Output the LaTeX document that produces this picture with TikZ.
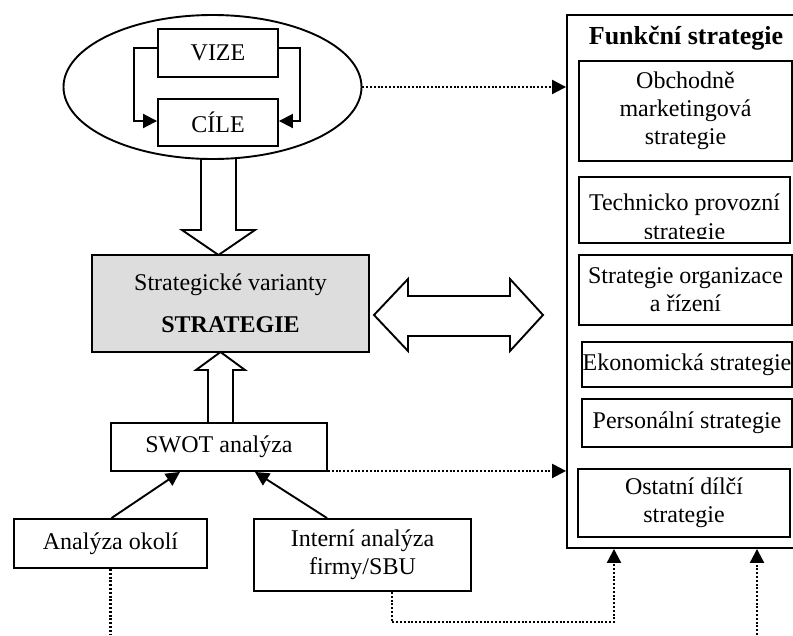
\documentclass[tikz,border=0pt]{standalone}
\usepackage{fontspec}
\setmainfont{Liberation Serif}
\usetikzlibrary{shapes.geometric,arrows.meta,calc}
\definecolor{boxgray}{RGB}{221,221,221}

\begin{document}
\begin{tikzpicture}[x=1pt,y=-1pt,
  lw/.style={line width=1.9pt},
  txt/.style={font=\fontsize{24}{28}\selectfont},
  box/.style={draw,lw,inner sep=0pt,align=center,txt},
  tip/.style={-{Triangle[length=14pt,width=14pt]}},
  dots/.style={line width=2.2pt,dash pattern=on 2pt off 1.8pt},
  block/.style={lw,line join=miter}]

\useasboundingbox (0,0) rectangle (793,635);
\clip (0,0) rectangle (793,635);

% --- vision and goals ---
\node[draw,lw,ellipse,minimum width=298pt,minimum height=144pt,inner sep=0pt] (ell) at (212.5,87) {};
\node[box,minimum width=120pt,minimum height=48pt] (vize) at (218,53) {VIZE};
\node[box,minimum width=120pt,minimum height=47pt] (cile) at (218,122.5) {CÍLE};
\draw[lw,tip] ([yshift=5pt]vize.west) -- ++(-23,0) |- ([yshift=1.5pt]cile.west);
\draw[lw,tip] ([yshift=5pt]vize.east) -- ++(21,0) |- ([yshift=1.5pt]cile.east);

% --- strategy ---
\node[box,fill=boxgray,minimum width=277pt,minimum height=97pt] (strat) at (230.5,303.5)
  {Strategické varianty\\[14pt]\textbf{STRATEGIE}};

% --- analyses ---
\node[box,minimum width=216pt,minimum height=48pt] (swot) at (219,447) {SWOT analýza};
\node[box,minimum width=193pt,minimum height=49pt] (okoli) at (110.5,543.5) {Analýza okolí};
\node[box,minimum width=217pt,minimum height=72pt] (intern) at (362.5,555) {Interní analýza\\firmy/SBU};

% --- functional strategies ---
\node[draw,lw,inner sep=0pt,minimum width=240pt,minimum height=533pt] (outer) at (687,281.5) {};
\node[font=\fontsize{26}{30}\selectfont\bfseries,inner sep=0pt] (ftitle) at (686,38) {Funkční strategie};
\node[box,minimum width=213pt,minimum height=100pt] (obch) at (685.5,111)
  {Obchodně\\marketingová\\strategie};
\node[draw,lw,inner sep=0pt,minimum width=211pt,minimum height=66pt] (tech) at (684.5,210) {};
\begin{scope}
  \clip (580,178) rectangle (789,238);
  \node[txt,inner sep=0pt,anchor=base] (techtext1) at (684.5,210) {Technicko provozní};
  \node[txt,inner sep=0pt,anchor=base] (techtext2) at (684.5,239) {strategie};
\end{scope}
\node[box,minimum width=213pt,minimum height=70pt] (org) at (685.5,290) {Strategie organizace\\a řízení};
\node[box,minimum width=210pt,minimum height=45pt] (ekon) at (687,364.5) {Ekonomická strategie};
\node[box,minimum width=210pt,minimum height=48pt] (pers) at (687,423) {Personální strategie};
\node[box,minimum width=212pt,minimum height=68pt] (ostat) at (684,503) {Ostatní dílčí\\strategie};

% --- block arrows ---
\draw[block] (201,158) -- (201,230) -- (182,230) -- (218.5,255) -- (255,230) -- (236,230) -- (236,158);
\draw[block] (208,423) -- (208,370) -- (196,370) -- (220.5,352) -- (245,370) -- (233,370) -- (233,423);
\draw[block] (374,315) -- (408,279) -- (408,296) -- (510,296) -- (510,279) -- (543,315)
  -- (510,351) -- (510,336) -- (408,336) -- (408,351) -- cycle;

% --- solid connectors ---
\draw[lw,tip] ([xshift=1pt]okoli.north) -- ([xshift=-39pt]swot.south);
\draw[lw,tip] ([xshift=-35.5pt]intern.north) -- ([xshift=36pt]swot.south);

% --- dotted connectors ---
\coordinate (bot) at (0,635);
\coordinate (rbot) at (757,635);
\draw[dots,tip] (ell.east) -- (ell.east -| outer.west);
\draw[dots,tip] ([yshift=1pt]swot.south east) -- ([yshift=1pt]swot.south east -| outer.west);
\draw[dots] (okoli.south) -- (okoli.south |- bot);
\draw[dots,tip] ([xshift=29.5pt]intern.south) -- ++(0,30) -| ([xshift=-73pt]outer.south);
\draw[dots,tip] (rbot) -- (rbot |- outer.south);
\end{tikzpicture}
\end{document}
